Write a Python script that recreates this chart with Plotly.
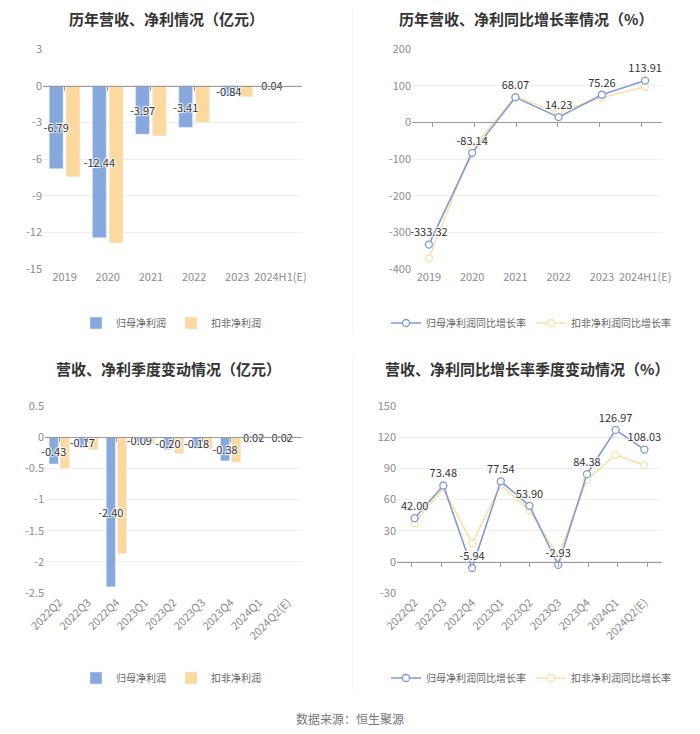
import plotly.graph_objects as go

# page body has an 8px margin; the figure is sized to fit inside the 700x734 window
OFF = 8
W, H = 700 - 2 * OFF, 734 - 2 * OFF

# ---------------- data ----------------
years = ["2019", "2020", "2021", "2022", "2023", "2024H1(E)"]
annual_np = [-6.79, -12.44, -3.97, -3.41, -0.84, 0.04]
annual_np_ded = [-7.45, -12.87, -4.10, -3.00, -0.90, 0.02]
annual_np_yoy = [-333.32, -83.14, 68.07, 14.23, 75.26, 113.91]
annual_ded_yoy = [-371.0, -71.0, 70.0, 27.0, 68.0, 97.0]

quarters = ["2022Q2", "2022Q3", "2022Q4", "2023Q1", "2023Q2", "2023Q3",
            "2023Q4", "2024Q1", "2024Q2(E)"]
q_np = [-0.43, -0.17, -2.40, -0.09, -0.20, -0.18, -0.38, 0.02, 0.02]
q_np_ded = [-0.50, -0.20, -1.87, -0.11, -0.26, -0.19, -0.40, 0.01, 0.01]
q_np_yoy = [42.00, 73.48, -5.94, 77.54, 53.90, -2.93, 84.38, 126.97, 108.03]
q_ded_yoy = [37.0, 71.0, 18.0, 74.0, 50.0, 5.0, 79.0, 103.0, 93.0]

y1_ticks = [3, 0, -3, -6, -9, -12, -15]
y1_text = ["3", "0", "-3", "-6", "-9", "-12", "-15"]
y2_ticks = [200, 100, 0, -100, -200, -300, -400]
y2_text = ["200", "100", "0", "-100", "-200", "-300", "-400"]
y3_ticks = [0.5, 0, -0.5, -1, -1.5, -2, -2.5]
y3_text = ["0.5", "0", "-0.5", "-1", "-1.5", "-2", "-2.5"]
y4_ticks = [150, 120, 90, 60, 30, 0, -30]
y4_text = ["150", "120", "90", "60", "30", "0", "-30"]

# ---------------- style ----------------
FONT = "Noto Sans CJK SC, Noto Sans, sans-serif"
BLUE_BAR = "#87a8dc"
ORANGE_BAR = "#fdd9a0"
BLUE_LINE = "#7b9cd5"
ORANGE_LINE = "#fcdfa9"
TICK_C = "#8c8c8c"
GRID_C = "#efefef"
ZERO_C = "#9a9a9a"
HALO = "1px 1px 1px #fff, -1px -1px 1px #fff, 1px -1px 1px #fff, -1px 1px 1px #fff"
BAR_W = 0.32      # bar width in category units
BAR_GAP = 0.07    # gap between the two bars of a group


def fmt(v):
    return f"{v:.2f}"


def px(xp):
    return (xp - OFF) / W


def py(yp):
    return 1 - (yp - OFF) / H


def xdom(l, r):
    return [px(l), px(r)]


def ydom(t, b):
    return [py(b), py(t)]


fig = go.Figure()

blue_off = -(BAR_W + BAR_GAP / 2)
orange_off = BAR_GAP / 2

line_marker = lambda c: dict(symbol="circle", size=7, color="white", line=dict(color=c, width=1.3))

# ---- chart 1: annual bars (orange drawn first so blue labels sit on top) ----
fig.add_trace(go.Bar(x=years, y=annual_np_ded, name="扣非净利润", marker_color=ORANGE_BAR,
                     width=BAR_W, offset=orange_off,
                     xaxis="x", yaxis="y", legend="legend", legendrank=2))
fig.add_trace(go.Bar(x=years, y=annual_np, name="归母净利润", marker_color=BLUE_BAR,
                     width=BAR_W, offset=blue_off,
                     text=[fmt(v) for v in annual_np], textposition="inside",
                     insidetextanchor="middle", constraintext="none", textangle=0,
                     textfont=dict(size=11, color="#333", shadow=HALO),
                     xaxis="x", yaxis="y", legend="legend", legendrank=1, cliponaxis=False))

# ---- chart 2: annual yoy lines ----
fig.add_trace(go.Scatter(x=years, y=annual_ded_yoy, name="扣非净利润同比增长率",
                         mode="lines+markers", line=dict(color=ORANGE_LINE, width=1.6),
                         marker=line_marker(ORANGE_LINE),
                         xaxis="x2", yaxis="y2", legend="legend2", legendrank=2))
fig.add_trace(go.Scatter(x=years, y=annual_np_yoy, name="归母净利润同比增长率",
                         mode="lines+markers+text", line=dict(color=BLUE_LINE, width=1.6),
                         marker=line_marker(BLUE_LINE),
                         text=[fmt(v) for v in annual_np_yoy], textposition="top center",
                         textfont=dict(size=11, color="#333", shadow=HALO), cliponaxis=False,
                         xaxis="x2", yaxis="y2", legend="legend2", legendrank=1))

# ---- chart 3: quarterly bars ----
fig.add_trace(go.Bar(x=quarters, y=q_np_ded, name="扣非净利润", marker_color=ORANGE_BAR,
                     width=BAR_W, offset=orange_off,
                     xaxis="x3", yaxis="y3", legend="legend3", legendrank=2))
fig.add_trace(go.Bar(x=quarters, y=q_np, name="归母净利润", marker_color=BLUE_BAR,
                     width=BAR_W, offset=blue_off,
                     text=[fmt(v) for v in q_np], textposition="inside",
                     insidetextanchor="middle", constraintext="none", textangle=0,
                     textfont=dict(size=11, color="#333", shadow=HALO),
                     xaxis="x3", yaxis="y3", legend="legend3", legendrank=1, cliponaxis=False))

# ---- chart 4: quarterly yoy lines ----
fig.add_trace(go.Scatter(x=quarters, y=q_ded_yoy, name="扣非净利润同比增长率",
                         mode="lines+markers", line=dict(color=ORANGE_LINE, width=1.6),
                         marker=line_marker(ORANGE_LINE),
                         xaxis="x4", yaxis="y4", legend="legend4", legendrank=2))
fig.add_trace(go.Scatter(x=quarters, y=q_np_yoy, name="归母净利润同比增长率",
                         mode="lines+markers+text", line=dict(color=BLUE_LINE, width=1.6),
                         marker=line_marker(BLUE_LINE),
                         text=[fmt(v) for v in q_np_yoy], textposition="top center",
                         textfont=dict(size=11, color="#333", shadow=HALO), cliponaxis=False,
                         xaxis="x4", yaxis="y4", legend="legend4", legendrank=1))

# ---- zero-line tick axes (overlay) ----
panels = [
    ("x", "y", years, ydom(49, 269), [-15, 3]),
    ("x2", "y2", years, ydom(49, 269), [-400, 200]),
    ("x3", "y3", quarters, ydom(406, 593), [-2.5, 0.5]),
    ("x4", "y4", quarters, ydom(406, 593), [-30, 150]),
]
overlay_layout = {}
for i, (xa, ya, cats, yd, yr) in enumerate(panels):
    ox = f"x{5 + i}"
    n = len(cats)
    pos = yd[0] + (0 - yr[0]) / (yr[1] - yr[0]) * (yd[1] - yd[0])
    overlay_layout[f"xaxis{5 + i}"] = dict(
        overlaying=xa, anchor="free", position=pos, range=[-0.5, n - 0.5],
        tickvals=list(range(n)), ticks="outside", ticklen=4, tickcolor=ZERO_C,
        showline=True, linecolor=ZERO_C, linewidth=1, showticklabels=False,
        showgrid=False, zeroline=False, fixedrange=True)
    fig.add_trace(go.Scatter(x=[0], y=[0], xaxis=ox, yaxis=ya, mode="markers",
                             marker=dict(opacity=0), showlegend=False, hoverinfo="skip"))

xcommon = dict(type="category", showgrid=False, zeroline=False, showline=False, ticks="",
               tickfont=dict(size=11, color=TICK_C))
ycommon = dict(showgrid=True, gridcolor=GRID_C, zeroline=False, showline=False, ticks="",
               tickfont=dict(size=11, color=TICK_C))

legend_common = dict(orientation="h", xanchor="center", yanchor="middle",
                     font=dict(size=10, color="#666", family=FONT), bgcolor="rgba(0,0,0,0)",
                     itemwidth=30, traceorder="normal")

fig.update_layout(
    width=W, height=H, margin=dict(l=0, r=0, t=0, b=0, pad=0, autoexpand=False),
    paper_bgcolor="white", plot_bgcolor="white",
    font=dict(family=FONT),
    barmode="group",
    xaxis=dict(domain=xdom(43, 302), anchor="y", **xcommon),
    yaxis=dict(domain=ydom(49, 269), anchor="x", range=[-15, 3], tickvals=y1_ticks,
               ticktext=y1_text, **ycommon),
    xaxis2=dict(domain=xdom(412, 662), anchor="y2", **xcommon),
    yaxis2=dict(domain=ydom(49, 269), anchor="x2", range=[-400, 200], tickvals=y2_ticks,
                ticktext=y2_text, **ycommon),
    xaxis3=dict(domain=xdom(45, 302), anchor="y3", tickangle=-45, **xcommon),
    yaxis3=dict(domain=ydom(406, 593), anchor="x3", range=[-2.5, 0.5], tickvals=y3_ticks,
                ticktext=y3_text, **ycommon),
    xaxis4=dict(domain=xdom(397, 662), anchor="y4", tickangle=-45, **xcommon),
    yaxis4=dict(domain=ydom(406, 593), anchor="x4", range=[-30, 150], tickvals=y4_ticks,
                ticktext=y4_text, **ycommon),
    legend=dict(x=px(171), y=py(323), **legend_common),
    legend2=dict(x=px(531), y=py(323), **legend_common),
    legend3=dict(x=px(171), y=py(678), **legend_common),
    legend4=dict(x=px(531), y=py(678), **legend_common),
    **overlay_layout,
)

titles = [
    ("历年营收、净利情况（亿元）", 166, 19),
    ("历年营收、净利同比增长率情况（%）", 526, 19),
    ("营收、净利季度变动情况（亿元）", 168, 368),
    ("营收、净利同比增长率季度变动情况（%）", 527, 368),
]
for text, cx, cy in titles:
    fig.add_annotation(text=text, x=px(cx), y=py(cy), xref="paper", yref="paper",
                       showarrow=False, xanchor="center", yanchor="middle",
                       font=dict(size=15, color="#333", family=FONT, weight="bold"))

fig.add_annotation(text="数据来源：恒生聚源", x=px(350), y=py(718), xref="paper", yref="paper",
                   showarrow=False, xanchor="center", yanchor="middle",
                   font=dict(size=12, color="#777", family=FONT))

# faint panel separator
fig.add_shape(type="line", xref="paper", yref="paper", x0=px(353), x1=px(353),
              y0=py(335), y1=1, line=dict(color="#f2f2f2", width=1))
fig.add_shape(type="line", xref="paper", yref="paper", x0=px(353), x1=px(353),
              y0=py(690), y1=py(355), line=dict(color="#f2f2f2", width=1))

fig.write_html("out.html")
